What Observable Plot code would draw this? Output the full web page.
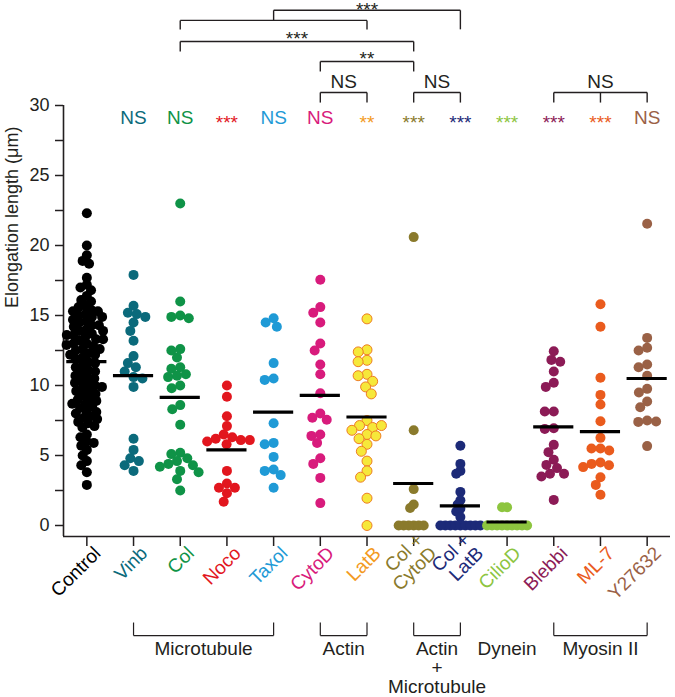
<!DOCTYPE html>
<html>
<head>
<meta charset="utf-8">
<script src="https://cdn.jsdelivr.net/npm/d3@7"></script>
<script src="https://cdn.jsdelivr.net/npm/@observablehq/plot@0.6"></script>
<style>
  html, body { margin: 0; padding: 0; background: #fff; }
  #chart svg { display: block; }
  #chart svg g[aria-label="y-axis tick"], #chart svg g[aria-label="x-axis tick"] { stroke-width: 1.5px; }
</style>
</head>
<body>
<div id="chart"></div>
<script>
// ---------- data ----------
const categories = ["Control", "Vinb", "Col", "Noco", "Taxol", "CytoD", "LatB",
  "Col+CytoD", "Col+LatB", "CilioD", "Blebbi", "ML-7", "Y27632"];
const tickLabels = ["Control", "Vinb", "Col", "Noco", "Taxol", "CytoD", "LatB",
  "Col +\nCytoD", "Col +\nLatB", "CilioD", "Blebbi", "ML-7", "Y27632"];
const colors = ["#000000", "#0b6a7b", "#0f9347", "#e2161e", "#1f9ad6", "#d81b7c", "#f39a1e",
  "#8a7a2c", "#1c2a78", "#8dc53f", "#8c1b56", "#ea5b1d", "#9a6146"];

const control = [22.3, 20.0, 19.3, 18.9, 18.7, 17.7, 17.2, 17.0, 16.8, 16.4, 16.1, 16.0, 15.7,
  15.6, 15.4, 15.3, 15.3, 15.1, 15.0, 14.9, 14.9, 14.7, 14.6, 14.5, 14.3, 14.3, 14.2, 14.0,
  13.9, 13.9, 13.7, 13.6, 13.6, 13.5, 13.3, 13.3, 13.2, 13.0, 13.0, 12.9, 12.8, 12.6, 12.6,
  12.5, 12.3, 12.2, 12.2, 12.0, 11.9, 11.7, 11.6, 11.4, 11.3, 11.1, 11.0, 10.9, 10.7, 10.6,
  10.5, 10.3, 10.2, 10.1, 10.0, 9.9, 9.8, 9.6, 9.6, 9.4, 9.3, 9.1, 9.0, 8.9, 8.7, 8.7, 8.5,
  8.4, 8.2, 8.1, 8.0, 7.8, 7.7, 7.6, 7.4, 7.3, 7.1, 7.0, 6.5, 6.3, 6.0, 5.9, 5.7, 5.4, 5.0,
  4.6, 4.3, 3.8, 2.9];
const vinb = [17.9, 15.7, 15.2, 15.1, 14.9, 14.5, 13.9, 13.2, 12.1, 11.6, 11.3, 11.0, 10.6,
  10.5, 9.9, 6.2, 5.4, 4.8, 4.6, 4.3, 3.9];
const col = [23.0, 16.0, 15.0, 14.9, 14.8, 12.6, 12.5, 12.0, 11.3, 11.2, 10.8, 10.7, 10.6,
  10.0, 9.8, 8.6, 8.3, 7.2, 5.2, 5.1, 4.8, 4.6, 4.4, 4.3, 4.2, 3.9, 3.8, 3.3, 2.5];
const noco = [10.0, 9.2, 7.8, 7.1, 6.5, 6.3, 6.2, 6.1, 6.0, 6.1, 5.8, 3.9, 3.0, 2.7, 2.7, 2.3, 1.7];
const taxol = [14.8, 14.5, 14.2, 11.6, 10.5, 10.4, 7.3, 5.9, 5.8, 4.9, 4.0, 3.9, 3.6, 2.7];
const cytoD = [17.55, 15.6, 15.2, 14.5, 13.0, 12.5, 11.5, 10.8, 9.45, 8.0, 7.7, 7.55, 6.5,
  6.4, 5.9, 4.8, 4.4, 3.4, 1.6];
const latB = [14.76, 12.55, 12.4, 11.8, 11.7, 10.8, 10.7, 10.3, 9.9, 9.4, 7.5, 7.14, 7.0, 7.14,
  6.8, 6.5, 6.4, 6.2, 5.8, 5.3, 4.6, 3.9, 3.45, 1.95, 0];
const colCytoD = [20.6, 6.8, 2.6, 1.5, 1.25, 0, 0, 0, 0, 0, 0];
const colLatB = [5.7, 4.4, 3.9, 3.7, 2.4, 1.8, 1.5, 1.2, 1.0, 0.6, 0, 0, 0, 0, 0, 0, 0, 0, 0];
const cilioD = [1.3, 1.3, 0, 0, 0, 0, 0, 0, 0, 0, 0];
const blebbi = [12.45, 11.83, 11.7, 11.0, 10.2, 9.9, 8.14, 8.14, 6.95, 6.9, 5.76, 5.24, 4.7,
  4.33, 4.1, 3.7, 3.7, 3.5, 1.83];
const ml7 = [15.8, 14.2, 10.55, 9.33, 8.64, 7.45, 6.26, 5.5, 5.5, 5.36, 4.5, 4.4, 4.3, 4.17,
  3.45, 2.9, 2.2];
const y27632 = [21.55, 13.4, 12.7, 12.5, 11.5, 11.3, 10.7, 9.76, 9.5, 8.86, 8.45, 7.5, 7.4,
  7.43, 5.67];

const means = [11.7, 10.7, 9.15, 5.4, 8.1, 9.3, 7.75, 3.0, 1.4, 0.25, 7.05, 6.7, 10.5];
const significance = ["", "NS", "NS", "***", "NS", "NS", "**", "***", "***", "***", "***", "***", "NS"];

const yTicks = [0, 2.5, 5, 7.5, 10, 12.5, 15, 17.5, 20, 22.5, 25, 27.5, 30];
const yTitle = "Elongation length (\u03bcm)";

// pairwise comparisons drawn above the plot (level/drops in axis units above 30)
const comparisons = [
  {from: "Taxol", to: "Col+LatB", label: "***", level: 36.8, dropFrom: 0.72, dropTo: 1.36, gap: 0.36},
  {from: "Col", to: "LatB", label: "", level: 36.08, dropFrom: 0.65, dropTo: 0.65},
  {from: "Col", to: "Col+CytoD", label: "***", level: 34.57, dropFrom: 0.71, dropTo: 0.71},
  {from: "CytoD", to: "Col+CytoD", label: "**", level: 33.14, dropFrom: 0.71, dropTo: 0.71},
  {from: "CytoD", to: "LatB", label: "NS", level: 30.93, dropFrom: 0.72, dropTo: 0.72},
  {from: "Col+CytoD", to: "Col+LatB", label: "NS", level: 30.93, dropFrom: 0.72, dropTo: 0.72},
  {from: "Blebbi", to: "Y27632", via: "ML-7", label: "NS", level: 30.93, dropFrom: 0.72, dropTo: 0.72}
];

// drug-target groups drawn under the axis
const groups = [
  {label: "Microtubule", from: "Vinb", to: "Taxol", bracket: true},
  {label: "Actin", from: "CytoD", to: "LatB", bracket: true},
  {label: "Actin\n+\nMicrotubule", from: "Col+CytoD", to: "Col+LatB", bracket: true},
  {label: "Dynein", from: "CilioD", to: "CilioD", bracket: false},
  {label: "Myosin II", from: "Blebbi", to: "Y27632", bracket: true}
];

// ---------- layout ----------
const W = 675, H = 697;
const M = {top: 105, right: 5, bottom: 161, left: 63};
const yBottom = -11 / 14;          // axis line sits a little below zero
const xMin = -0.5, xMax = categories.length - 0.5;
const groupLegTop = -6.93, groupBar = -7.86, groupLabelTop = -8.3;
const sigLevel = 29.1;
const halfBar = 0.43;
const font = "'Liberation Sans', Arial, Helvetica, sans-serif";
const lineColor = "#231f20";
const idx = c => categories.indexOf(c);

const rows = [];
[control, vinb, col, noco, taxol, cytoD, latB, colCytoD, colLatB, cilioD, blebbi, ml7, y27632]
  .forEach((vals, i) => vals.forEach(v => rows.push({category: categories[i], index: i, value: v})));
const meanRows = categories.map((c, i) => ({category: c, index: i, mean: means[i]}));
const sigRows = categories.map((c, i) => ({category: c, index: i, label: significance[i]})).filter(d => d.label);
const labelRows = categories.map((c, i) => ({category: c, index: i, label: tickLabels[i]}));
const oneLine = labelRows.filter(d => !d.label.includes("\n"));
const twoLine = labelRows.filter(d => d.label.includes("\n"));

const bracketSegs = [];
const bracketLabels = [];
for (const c of comparisons) {
  const a = idx(c.from), b = idx(c.to);
  bracketSegs.push({x1: a, x2: b, y1: c.level, y2: c.level});
  bracketSegs.push({x1: a, x2: a, y1: c.level, y2: c.level - c.dropFrom});
  bracketSegs.push({x1: b, x2: b, y1: c.level, y2: c.level - c.dropTo});
  if (c.via) bracketSegs.push({x1: idx(c.via), x2: idx(c.via), y1: c.level, y2: c.level - c.dropTo});
  if (c.label) bracketLabels.push({x: (a + b) / 2, y: c.level + (c.gap ?? (c.label === "NS" ? 0.78 : 0.5)), label: c.label});
}
const groupSegs = [];
for (const g of groups) {
  if (!g.bracket) continue;
  const a = idx(g.from), b = idx(g.to);
  groupSegs.push({x1: a, x2: b, y1: groupBar, y2: groupBar});
  groupSegs.push({x1: a, x2: a, y1: groupBar, y2: groupLegTop});
  groupSegs.push({x1: b, x2: b, y1: groupBar, y2: groupLegTop});
}
const groupLabelRows = groups.map(g => ({x: (idx(g.from) + idx(g.to)) / 2, label: g.label}));

const catLabelStyle = {x: "index", text: "label", fill: "category", frameAnchor: "bottom",
  rotate: -45, textAnchor: "end", fontSize: 19, lineHeight: 1.0};

function build(dotMarks) {
  return Plot.plot({
    width: W, height: H,
    marginTop: M.top, marginRight: M.right, marginBottom: M.bottom, marginLeft: M.left,
    style: {fontFamily: font, fontSize: "18px", color: lineColor, background: "#fff"},
    x: {domain: [xMin, xMax], ticks: d3.range(categories.length),
        tickFormat: () => "", tickSize: 10, label: null},
    y: {domain: [yBottom, 30], ticks: yTicks, tickFormat: d => (d % 5 === 0 ? d : ""),
        tickSize: 8, tickPadding: 6, label: null},
    color: {type: "ordinal", domain: categories, range: colors},
    marks: [
      Plot.ruleX([xMin], {y1: yBottom, y2: 30, stroke: lineColor, strokeWidth: 1.6}),
      Plot.ruleY([yBottom], {x1: xMin, x2: xMax, stroke: lineColor, strokeWidth: 1.6}),
      ...dotMarks,
      Plot.ruleY(meanRows, {x1: d => d.index - halfBar, x2: d => d.index + halfBar, y: "mean",
        stroke: "#000", strokeWidth: 3.2}),
      // significance vs control
      Plot.text(sigRows.filter(d => d.label === "NS"), {x: "index", y: () => sigLevel, text: "label",
        fill: "category", fontSize: 19}),
      Plot.text(sigRows.filter(d => d.label !== "NS"), {x: "index", y: () => sigLevel, text: "label",
        fill: "category", fontSize: 19, dy: 4.5}),
      // comparison brackets
      Plot.link(bracketSegs, {x1: "x1", x2: "x2", y1: "y1", y2: "y2", stroke: lineColor, strokeWidth: 1.4}),
      Plot.text(bracketLabels.filter(d => d.label === "NS"), {x: "x", y: "y", text: "label", fill: lineColor, fontSize: 19}),
      Plot.text(bracketLabels.filter(d => d.label !== "NS"), {x: "x", y: "y", text: "label", fill: lineColor, fontSize: 19, dy: 4.5}),
      // category labels
      Plot.text(oneLine, {...catLabelStyle, dx: 15, dy: 18}),
      Plot.text(twoLine, {...catLabelStyle, dx: 24, dy: 18}),
      // group brackets
      Plot.link(groupSegs, {x1: "x1", x2: "x2", y1: "y1", y2: "y2", stroke: lineColor, strokeWidth: 1.2}),
      Plot.text(groupLabelRows, {x: "x", y: () => groupLabelTop, text: "label", lineAnchor: "top",
        fill: lineColor, fontSize: 19, lineHeight: 1.0}),
      // y title
      Plot.text([yTitle], {text: d => d, frameAnchor: "left", dx: -51, dy: -13, rotate: -90,
        fill: lineColor, fontSize: 18})
    ]
  });
}

// first pass to read the x scale, then place each category's swarm at its tick
const first = build([]);
const xs = first.scale("x");
const frameMid = (M.left + W - M.right) / 2;
const padding = {"Control": -3, "Col+CytoD": -5, "Col+LatB": -5, "CilioD": -5};
const dotMarks = categories.map((c, i) => {
  const data = rows.filter(d => d.category === c);
  const dx = xs.apply(i) - frameMid;
  const style = c === "LatB"
    ? {fill: "#f6e83a", stroke: "#ee7d24", strokeWidth: 1}
    : {fill: "category"};
  return Plot.dot(data, Plot.dodgeX({anchor: "middle", padding: padding[c] ?? -1},
    {y: "value", r: 5, dx, ...style}));
});
document.getElementById("chart").append(build(dotMarks));
</script>
</body>
</html>
